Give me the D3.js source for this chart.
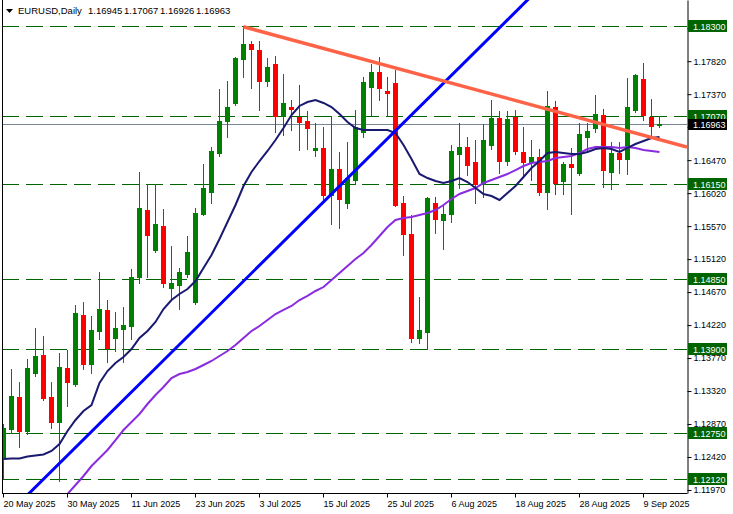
<!DOCTYPE html>
<html><head><meta charset="utf-8">
<script src="https://cdn.jsdelivr.net/npm/d3@7"></script>
<style>
html,body{margin:0;padding:0;background:#fff;}
svg{display:block;font-family:"Liberation Sans",Arial,sans-serif;}
</style></head><body>
<svg id="c" width="733" height="514"></svg>
<script>
const symbolTitle = "EURUSD,Daily";
const dates = [
"2025-05-20","2025-05-21","2025-05-22","2025-05-23","2025-05-26","2025-05-27","2025-05-28","2025-05-29","2025-05-30",
"2025-06-02","2025-06-03","2025-06-04","2025-06-05","2025-06-06","2025-06-09","2025-06-10","2025-06-11","2025-06-12","2025-06-13",
"2025-06-16","2025-06-17","2025-06-18","2025-06-19","2025-06-20","2025-06-23","2025-06-24","2025-06-25","2025-06-26","2025-06-27","2025-06-30",
"2025-07-01","2025-07-02","2025-07-03","2025-07-04","2025-07-07","2025-07-08","2025-07-09","2025-07-10","2025-07-11","2025-07-14",
"2025-07-15","2025-07-16","2025-07-17","2025-07-18","2025-07-21","2025-07-22","2025-07-23","2025-07-24","2025-07-25","2025-07-28",
"2025-07-29","2025-07-30","2025-07-31","2025-08-01","2025-08-04","2025-08-05","2025-08-06","2025-08-07","2025-08-08","2025-08-11",
"2025-08-12","2025-08-13","2025-08-14","2025-08-15","2025-08-18","2025-08-19","2025-08-20","2025-08-21","2025-08-22","2025-08-25",
"2025-08-26","2025-08-27","2025-08-28","2025-08-29","2025-09-01","2025-09-02","2025-09-03","2025-09-04","2025-09-05","2025-09-08",
"2025-09-09","2025-09-10","2025-09-11"];
const open = [1.1240,1.1280,1.1324,1.1278,1.1357,1.1381,1.1324,1.1290,1.1363,
1.1342,1.1436,1.1369,1.1414,1.1443,1.1405,1.1417,1.1421,1.1487,1.1579,
1.1524,1.1557,1.1473,1.1477,1.1492,1.1454,1.1574,1.1603,1.1657,1.1700,1.1725,
1.1785,1.1806,1.1797,1.1755,1.1778,1.1707,1.1720,1.1706,1.1700,1.1661,
1.1664,1.1600,1.1635,1.1588,1.1620,1.1685,1.1747,1.1767,1.1741,1.1752,
1.1588,1.1546,1.1404,1.1413,1.1589,1.1566,1.1574,1.1655,1.1665,1.1645,
1.1615,1.1667,1.1705,1.1646,1.1706,1.1658,1.1645,1.1651,1.1604,1.1720,
1.1618,1.1642,1.1630,1.1679,1.1691,1.1709,1.1631,1.1657,1.1648,1.1716,
1.1758,1.1706,1.16945];
const high = [1.1287,1.1362,1.1344,1.1376,1.1418,1.1407,1.1344,1.1384,1.1388,
1.1449,1.1454,1.1434,1.1494,1.1456,1.1440,1.1447,1.1499,1.1631,1.1614,
1.1614,1.1580,1.1530,1.1500,1.1544,1.1582,1.1642,1.1665,1.1744,1.1755,1.1788,
1.1829,1.1810,1.1810,1.1786,1.1789,1.1765,1.1729,1.1750,1.1714,1.1698,
1.1692,1.1707,1.1658,1.1672,1.1715,1.1760,1.1778,1.1788,1.1760,1.1770,
1.1598,1.1572,1.1460,1.1597,1.1597,1.1584,1.1668,1.1698,1.1679,1.1675,
1.1696,1.1729,1.1714,1.1714,1.1715,1.1692,1.1674,1.1662,1.1741,1.1728,
1.1645,1.1664,1.1697,1.1698,1.1736,1.1717,1.1672,1.1672,1.1759,1.1765,
1.1780,1.1730,1.17067];
const low = [1.1214,1.1275,1.1255,1.1273,1.1352,1.1320,1.1282,1.1209,1.1311,
1.1339,1.1362,1.1356,1.1403,1.1371,1.1386,1.1371,1.1403,1.1480,1.1488,
1.1522,1.1474,1.1459,1.1444,1.1488,1.1451,1.1572,1.1589,1.1652,1.1679,1.1722,
1.1760,1.1745,1.1715,1.1748,1.1685,1.1681,1.1688,1.1661,1.1662,1.1653,
1.1590,1.1560,1.1555,1.1582,1.1615,1.1679,1.1709,1.1729,1.1709,1.1584,
1.1518,1.1399,1.1398,1.1390,1.1548,1.1526,1.1563,1.1609,1.1627,1.1589,
1.1597,1.1662,1.1630,1.1640,1.1655,1.1627,1.1620,1.1599,1.1581,1.1601,
1.1601,1.1573,1.1627,1.1660,1.1685,1.1611,1.1607,1.1630,1.1628,1.1712,
1.1702,1.1680,1.16926];
const close = [1.1282,1.1325,1.1278,1.1363,1.1380,1.1323,1.1290,1.1365,1.1344,
1.1439,1.1369,1.1415,1.1444,1.1391,1.1418,1.1422,1.1488,1.1582,1.1545,
1.1560,1.1479,1.1479,1.1494,1.1522,1.1575,1.1609,1.1660,1.1700,1.1720,1.1786,
1.1806,1.1798,1.1755,1.1774,1.1707,1.1725,1.1717,1.1699,1.1691,1.1664,
1.1600,1.1635,1.1594,1.1623,1.1692,1.1754,1.1767,1.1745,1.1738,1.1586,
1.1546,1.1404,1.1415,1.1596,1.1567,1.1574,1.1660,1.1665,1.1640,1.1615,
1.1675,1.1705,1.1646,1.1703,1.1659,1.1645,1.1651,1.1604,1.1721,1.1616,
1.1642,1.1637,1.1683,1.1687,1.1710,1.1634,1.1657,1.1648,1.1720,1.1763,
1.1708,1.1694,1.16963];
// fast moving average (dark navy line)
const maFast = [1.12393,1.12400,1.12400,1.12427,1.12440,1.12454,1.12502,1.12597,1.12775,1.12925,
1.13048,1.13129,1.13430,1.13593,1.13702,1.13784,1.13893,1.14044,1.14139,1.14262,
1.14439,1.14562,1.14644,1.14712,1.14821,1.14998,1.15176,1.15394,1.15626,1.15858,
1.16117,1.16308,1.16458,1.16595,1.16745,1.16908,1.17086,1.17209,1.17263,1.17290,
1.17250,1.17195,1.17099,1.16990,1.16908,1.16881,1.16881,1.16881,1.16881,1.16840,
1.16677,1.16486,1.16281,1.16226,1.16185,1.16158,1.16185,1.16226,1.16172,1.16090,
1.16008,1.15981,1.15926,1.16022,1.16117,1.16240,1.16363,1.16458,1.16567,1.16581,
1.16567,1.16554,1.16554,1.16581,1.16622,1.16636,1.16622,1.16581,1.16636,1.16690,
1.16731,1.16772,1.16786];
// slow moving average (purple line)
const maSlow = [null,null,null,null,null,null,1.11670,1.11792,1.11915,1.12038,
1.12161,1.12297,1.12406,1.12516,1.12652,1.12788,1.12898,1.13007,1.13143,1.13266,
1.13375,1.13498,1.13552,1.13580,1.13621,1.13675,1.13730,1.13798,1.13866,1.13948,
1.14044,1.14139,1.14207,1.14289,1.14371,1.14426,1.14480,1.14562,1.14617,1.14685,
1.14739,1.14835,1.14930,1.15026,1.15121,1.15203,1.15312,1.15435,1.15558,1.15653,
1.15681,1.15694,1.15722,1.15749,1.15790,1.15858,1.15940,1.16008,1.16049,1.16090,
1.16158,1.16199,1.16240,1.16281,1.16335,1.16390,1.16431,1.16445,1.16458,1.16499,
1.16513,1.16526,1.16567,1.16622,1.16649,1.16649,1.16649,1.16636,1.16649,1.16636,
1.16608,1.16595,1.16581];
const levels = [1.18300,1.17070,1.16150,1.14850,1.13900,1.12750,1.12120];
const currentPrice = 1.16963;
const priceTicks = [1.11970,1.12420,1.12870,1.13320,1.13770,1.14220,1.14670,1.15120,1.15570,1.16020,1.16470,1.16920,1.17370,1.17820,1.18270];
const dateTicks = ["2025-05-20","2025-05-30","2025-06-11","2025-06-23","2025-07-03","2025-07-15","2025-07-25","2025-08-06","2025-08-18","2025-08-28","2025-09-09"];
const trendUp = [{date:"2025-06-11", price:1.13307},{date:"2025-07-16", price:1.16008}];
const trendDown = [{date:"2025-07-01", price:1.18290},{date:"2025-08-22", price:1.17165}];

const svg = d3.select("#c");
const W = 733, H = 514;
const plotL = 2, plotR = 687, plotT = 0, plotB = 493;
const x = d3.scalePoint().domain(dates).range([3, 659]);
const y = d3.scaleLinear().domain([1.119290, 1.186547]).range([493, 0]);
const FONT = 9;

svg.append("rect").attr("width", W).attr("height", H).attr("fill", "#fff");
svg.append("defs").append("clipPath").attr("id", "plot")
  .append("rect").attr("x", plotL + 1).attr("y", plotT).attr("width", plotR - plotL - 1).attr("height", plotB - plotT);

const g = svg.append("g").attr("clip-path", "url(#plot)");

// horizontal levels
g.selectAll("line.lvl").data(levels).join("line")
  .attr("x1", plotL).attr("x2", plotR)
  .attr("y1", d => Math.round(y(d)) + 0.5).attr("y2", d => Math.round(y(d)) + 0.5)
  .attr("stroke", "#006400").attr("stroke-width", 1).attr("stroke-dasharray", "17,7");

// current price line
g.append("line").attr("x1", plotL).attr("x2", plotR)
  .attr("y1", Math.round(y(currentPrice)) + 0.5).attr("y2", Math.round(y(currentPrice)) + 0.5)
  .attr("stroke", "#778899").attr("stroke-width", 1);

// candles
const idx = d3.range(dates.length);
const cg = g.append("g");
idx.forEach(i => {
  const cx = Math.round(x(dates[i]));
  const up = close[i] >= open[i];
  const col = up ? "#008000" : "#ff0000";
  const yh = Math.round(y(high[i])), yl = Math.round(y(low[i]));
  cg.append("rect").attr("x", cx).attr("y", yh).attr("width", 1).attr("height", Math.max(1, yl - yh + 1)).attr("fill", col);
  const yt = Math.round(y(Math.max(open[i], close[i]))), yb = Math.round(y(Math.min(open[i], close[i])));
  cg.append("rect").attr("x", cx - 2).attr("y", yt).attr("width", 5).attr("height", Math.max(1, yb - yt + 1)).attr("fill", col);
});

// moving averages
const lineGen = d3.line().defined(d => d != null).x((d, i) => x(dates[i]) + 0.5).y(d => y(d));
g.append("path").datum(maSlow).attr("d", lineGen).attr("fill", "none").attr("stroke", "#8a2be2").attr("stroke-width", 2);
g.append("path").datum(maFast).attr("d", lineGen).attr("fill", "none").attr("stroke", "#191970").attr("stroke-width", 2);

// trend lines
function extend(p, fromX, toX) {
  const x1 = x(p[0].date) + 0.5, y1 = y(p[0].price);
  const x2 = x(p[1].date) + 0.5, y2 = y(p[1].price);
  const s = (y2 - y1) / (x2 - x1);
  const xa = fromX == null ? x1 : fromX;
  return [[xa, y1 + s * (xa - x1)], [toX, y1 + s * (toX - x1)]];
}
const tu = extend(trendUp, 0, plotR);
g.append("line").attr("x1", tu[0][0]).attr("y1", tu[0][1]).attr("x2", tu[1][0]).attr("y2", tu[1][1])
  .attr("stroke", "#0000ff").attr("stroke-width", 3);
const td = extend(trendDown, null, plotR);
g.append("line").attr("x1", td[0][0]).attr("y1", td[0][1]).attr("x2", td[1][0]).attr("y2", td[1][1])
  .attr("stroke", "#ff6347").attr("stroke-width", 3.5);

// frame
svg.append("line").attr("x1", plotL + 0.5).attr("x2", plotL + 0.5).attr("y1", 0).attr("y2", plotB + 0.5).attr("stroke", "#000");

// right axis (labels hidden under the level / price boxes, as in the reference)
const boxed = levels.concat([currentPrice]).map(v => Math.round(y(v)));
const ay = svg.append("g").attr("transform", `translate(${plotR + 0.5},0)`)
  .call(d3.axisRight(y).tickValues(priceTicks).tickSize(4).tickSizeOuter(0).tickPadding(2)
    .tickFormat(v => boxed.some(b => Math.abs(b - y(v)) < 8) ? "" : d3.format(".5f")(v)));
ay.select(".domain").attr("stroke", "#000");
ay.selectAll("text").attr("font-size", FONT).attr("font-family", '"Liberation Sans",Arial,sans-serif').attr("fill", "#000");

// bottom axis
const ax = svg.append("g").attr("transform", `translate(0,${plotB + 0.5})`)
  .call(d3.axisBottom(x).tickValues(dateTicks).tickSize(4).tickSizeOuter(0).tickFormat(d => d3.timeFormat("%-d %b %Y")(d3.timeParse("%Y-%m-%d")(d))));
ax.select(".domain").attr("d", `M${plotL},0H${plotR + 0.5}`).attr("stroke", "#000");
ax.selectAll("text").attr("font-size", FONT).attr("font-family", '"Liberation Sans",Arial,sans-serif')
  .attr("text-anchor", "start").attr("x", 0).attr("y", 13).attr("dy", null).attr("fill", "#000");

// level labels
const lab = svg.append("g").attr("font-size", FONT);
levels.forEach(v => {
  const yy = Math.round(y(v));
  lab.append("rect").attr("x", 688).attr("y", yy - 6).attr("width", 39).attr("height", 12).attr("fill", "#006400");
  lab.append("text").attr("x", 693).attr("y", yy + 3.5).attr("fill", "#fff").text(d3.format(".5f")(v));
});
{
  const yy = Math.round(y(currentPrice));
  lab.append("rect").attr("x", 688).attr("y", yy - 5).attr("width", 39).attr("height", 11).attr("fill", "#000");
  lab.append("text").attr("x", 693).attr("y", yy + 4).attr("fill", "#fff").text(d3.format(".5f")(currentPrice));
}

// title
const last = dates.length - 1;
const tg = svg.append("g").attr("font-size", FONT + 0.5).attr("fill", "#000");
tg.append("path").attr("d", "M6,9H13L9.5,13Z").attr("fill", "#000");
tg.append("text").attr("x", 18).attr("y", 14).text(symbolTitle);
const fmt5 = d3.format(".5f");
[open[last], high[last], low[last], close[last]].forEach((v, k) => {
  tg.append("text").attr("x", 88 + k * 36).attr("y", 14).text(fmt5(v));
});
</script>
</body></html>
